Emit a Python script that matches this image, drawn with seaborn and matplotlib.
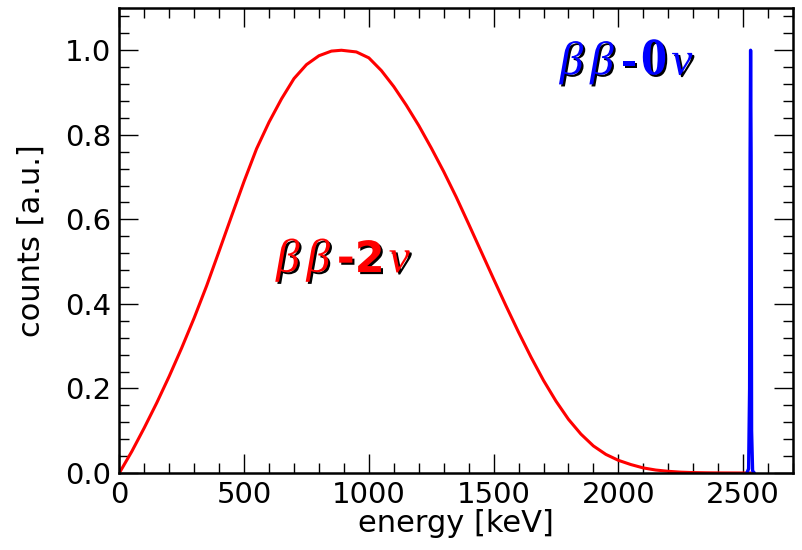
import numpy as np
import pandas as pd
import matplotlib
matplotlib.use("Agg")
import matplotlib.pyplot as plt
import matplotlib.patheffects as pe
from matplotlib.ticker import MultipleLocator, FormatStrFormatter
from matplotlib.offsetbox import TextArea, HPacker, AnnotationBbox
import seaborn as sns

# 2nu double beta spectrum (keV, normalised counts)
energy_2nu = [0, 50, 100, 150, 200, 250, 300, 350, 400, 450, 500, 550, 600,
              650, 700, 750, 800, 850, 890, 950, 1000, 1050, 1100, 1150, 1200,
              1250, 1300, 1350, 1400, 1450, 1500, 1550, 1600, 1650, 1700,
              1750, 1800, 1850, 1900, 1950, 2000, 2050, 2100, 2150, 2200,
              2250, 2300, 2350, 2400, 2500, 2530]
counts_2nu = [0.0, 0.051, 0.107, 0.166, 0.229, 0.296, 0.367, 0.443, 0.525,
              0.608, 0.690, 0.767, 0.83, 0.885, 0.933, 0.966, 0.987, 0.998,
              1.0, 0.996, 0.982, 0.952, 0.914, 0.870, 0.822, 0.769, 0.713,
              0.653, 0.589, 0.524, 0.459, 0.395, 0.333, 0.274, 0.219, 0.170,
              0.127, 0.092, 0.064, 0.044, 0.030, 0.020, 0.012, 0.007, 0.004,
              0.002, 0.001, 0.0005, 0.0002, 0.0, 0.0]

# 0nu peak at the Q value
energy_0nu = [2515, 2522, 2526, 2528, 2530, 2532, 2534, 2538, 2545]
counts_0nu = [0.0, 0.01, 0.2, 0.75, 1.0, 0.75, 0.1, 0.005, 0.0]

sns.set_style("ticks")
plt.rcParams["font.family"] = ["DejaVu Sans"]
plt.rcParams["mathtext.fontset"] = "custom"
plt.rcParams["mathtext.it"] = "Liberation Serif:italic"
plt.rcParams["mathtext.rm"] = "Liberation Serif"
plt.rcParams["mathtext.bf"] = "Liberation Serif:bold"

fig = plt.figure(figsize=(8.02, 5.5), dpi=100)
ax = fig.add_axes([0.1488, 0.14, 0.8400, 0.8455])

df2 = pd.DataFrame({"energy": energy_2nu, "counts": counts_2nu})
df0 = pd.DataFrame({"energy": energy_0nu, "counts": counts_0nu})
sns.lineplot(data=df2, x="energy", y="counts", color="#ff0000", lw=2.2, ax=ax)
sns.lineplot(data=df0, x="energy", y="counts", color="#0000ff", lw=2.4, ax=ax)

ax.set_xlim(0, 2700)
ax.set_ylim(0, 1.1)
ax.xaxis.set_major_locator(MultipleLocator(500))
ax.xaxis.set_minor_locator(MultipleLocator(100))
ax.yaxis.set_major_locator(MultipleLocator(0.2))
ax.yaxis.set_minor_locator(MultipleLocator(0.04))
ax.yaxis.set_major_formatter(FormatStrFormatter("%.1f"))

ax.tick_params(which="both", direction="in", top=True, right=True,
               width=1.0, colors="black", labelsize=21)
ax.tick_params(which="major", length=14, pad=6)
ax.tick_params(which="minor", length=7)
for s in ax.spines.values():
    s.set_linewidth(1.8)
    s.set_color("black")
    s.set_visible(True)

ax.set_xlabel("energy [keV]", fontsize=22, labelpad=0, color="black")
ax.set_ylabel("counts [a.u.]", fontsize=22, labelpad=14, color="black")

shadow = [pe.SimplePatchShadow(offset=(1.5, -1.5), shadow_rgbFace="black", alpha=1.0),
          pe.Normal()]


def label(parts, color, xy):
    boxes = []
    for txt, size, weight in parts:
        boxes.append(TextArea(txt, textprops=dict(color=color, fontsize=size,
                                                  family="DejaVu Sans",
                                                  fontweight=weight,
                                                  path_effects=shadow)))
    pack = HPacker(children=boxes, align="baseline", pad=0, sep=3)
    ab = AnnotationBbox(pack, xy, xycoords="data", box_alignment=(0, 0),
                        frameon=False, pad=0)
    ax.add_artist(ab)


label([(r"$\beta$", 34, "normal"), (r"$\beta$", 34, "normal"),
       ("-2", 31, "bold"), (r"$\nu$", 34, "normal")], "#ff0000", (628, 0.447))
label([(r"$\beta$", 34, "normal"), (r"$\beta$", 34, "normal"),
       ("-", 28, "bold"), (r"$\mathbf{0}$", 38, "normal"),
       (r"$\nu$", 34, "normal")], "#0000ff", (1765, 0.914))

fig.savefig("out.png", dpi=100)
